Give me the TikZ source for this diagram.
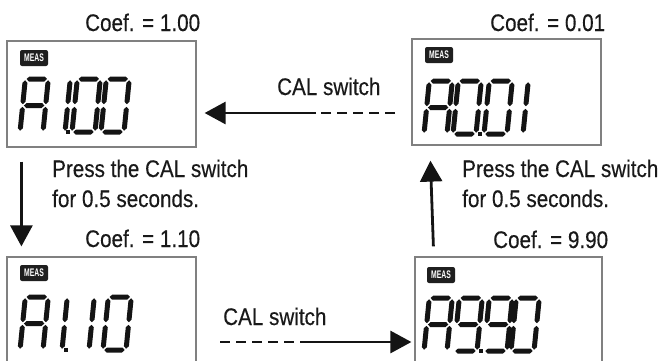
\documentclass[tikz,border=0pt]{standalone}
\usepackage{fontspec}
\setmainfont{Liberation Sans}
\newfontfamily\labfont{Liberation Sans}[FakeStretch=0.86,FakeBold=0.35]
\newfontfamily\measfont{Liberation Sans}[FakeStretch=0.62]
\usetikzlibrary{arrows.meta}
% seven-segment helpers (local units, y down)
\newcommand\hseg[3]{\fill[lcdink] (#1,#3) -- ++(2.5,-2.5) -- ({#2-2.5},{#3-2.5}) -- (#2,#3) -- ({#2-2.5},{#3+2.5}) -- ({#1+2.5},{#3+2.5}) -- cycle;}
\newcommand\vseg[3]{\fill[lcdink] (#1,#2) -- ++(2.5,2.5) -- ({#1+2.5},{#3-2.5}) -- (#1,#3) -- ({#1-2.5},{#3-2.5}) -- ({#1-2.5},{#2+2.5}) -- cycle;}
\newcommand\segA{\hseg{1.3}{21.7}{-53}}
\newcommand\segG{\hseg{1.3}{21.7}{-26.5}}
\newcommand\segD{\hseg{1.3}{21.7}{0}}
\newcommand\segB{\vseg{23}{-51.7}{-27.8}}
\newcommand\segC{\vseg{23}{-25.2}{-1.3}}
\newcommand\segE{\vseg{0}{-25.2}{-1.3}}
\newcommand\segF{\vseg{0}{-51.7}{-27.8}}
\newcommand\digA{\segA\segB\segC\segE\segF\segG}
\newcommand\digZero{\segA\segB\segC\segD\segE\segF}
\newcommand\digOne{\segB\segC}
\newcommand\digNine{\segA\segB\segC\segD\segF\segG}
\newcommand\lcddig[3]{\begin{scope}[shift={(#1,#2)},xslant=0.1]#3\end{scope}}
\newcommand\lcddot[2]{\fill[lcdink] ({#1-2.3},{#2-2.3}) rectangle ({#1+2.3},{#2+2.3});}
\begin{document}
\begin{tikzpicture}[x=1pt,y=-1pt,
  lcdink/.style={fill=black!92},
  lcdbox/.style={draw=black!50, line width=1.2pt, fill=white, inner sep=0pt, minimum width=189pt},
  badge/.style={fill=black!88, rounded corners=2pt, text=white, font=\measfont\bfseries\fontsize{11}{11}\selectfont, inner sep=0pt, minimum width=28pt, minimum height=16pt},
  lab/.style={font=\labfont\fontsize{24}{28}\selectfont, text=black!90, inner sep=0pt, anchor=base west},
  arr/.style={line width=2.8pt, draw=black!92, -{Triangle[length=21pt,width=22pt]}},
  dsh/.style={line width=2.8pt, draw=black!92, dash pattern=on 10pt off 6pt}]
\useasboundingbox (0,0) rectangle (666,360);
\clip (0,0) rectangle (666,360);

% display boxes
\node[lcdbox, minimum height=106pt] (d1) at (101.5,94) {};
\node[lcdbox, minimum height=106pt] (d2) at (506.5,92) {};
\node[lcdbox, minimum height=118pt] (d3) at (101.5,316) {};
\node[lcdbox, minimum width=187pt, minimum height=118pt] (d4) at (508.5,316) {};

% MEAS badges
\node[badge] (m1) at (34,58) {MEAS};
\node[badge] (m2) at (439,55) {MEAS};
\node[badge] (m3) at (34,273) {MEAS};
\node[badge] (m4) at (441,275) {MEAS};

% digits: A 1.00
\lcddig{20}{132}{\digA}
\lcddig{42}{132}{\digOne}
\lcddot{68}{132}
\lcddig{72}{132}{\digZero}
\lcddig{101}{132}{\digZero}
% A0.01
\lcddig{424}{134}{\digA}
\lcddig{453}{134}{\digZero}
\lcddot{480}{134}
\lcddig{484}{134}{\digZero}
\lcddig{500}{134}{\digOne}
% A1.10
\lcddig{20}{350}{\digA}
\lcddig{39}{350}{\digOne}
\lcddot{66}{350}
\lcddig{66}{350}{\digOne}
\lcddig{103}{350}{\digZero}
% A9.90
\lcddig{424}{351}{\digA}
\lcddig{454}{351}{\digNine}
\lcddot{481}{351}
\lcddig{484}{351}{\digNine}
\lcddig{511}{351}{\digZero}

% labels
\node[lab] (c1) at (85,31) {Coef. = 1.00};
\node[lab] (c2) at (490,31) {Coef. = 0.01};
\node[lab] (c3) at (85,247) {Coef. = 1.10};
\node[lab] (c4) at (493,248) {Coef. = 9.90};
\node[lab] (s1) at (277,95) {CAL switch};
\node[lab] (s2) at (223,325) {CAL switch};
\node[lab] (p1) at (52,177) {Press the CAL switch};
\node[lab] (q1) at (52,207) {for 0.5 seconds.};
\node[lab] (p2) at (462,177) {Press the CAL switch};
\node[lab] (q2) at (462,207) {for 0.5 seconds.};

% top connector: d2 -> d1
\coordinate (ta) at (395,113);
\coordinate (tb) at (321,113);
\coordinate (tc) at (316,113);
\draw[dsh] (ta) -- (tb);
\draw[arr, shorten >=8pt] (tc) -- (d1.east |- tc);

% bottom connector: d3 -> d4
\coordinate (ba) at (220,342);
\coordinate (bb) at (294,342);
\coordinate (bc) at (300,342);
\draw[dsh] (ba) -- (bb);
\draw[arr, shorten >=3pt] (bc) -- (d4.west |- bc);

% vertical connectors
\draw[arr] ([xshift=15pt,yshift=-14pt]d1.south west) -- ([xshift=15pt,yshift=10pt]d3.north west);
\draw[arr] ([xshift=19pt,yshift=10pt]d4.north west) -- ([xshift=19pt,yshift=-15pt]d2.south west);
\end{tikzpicture}
\end{document}
